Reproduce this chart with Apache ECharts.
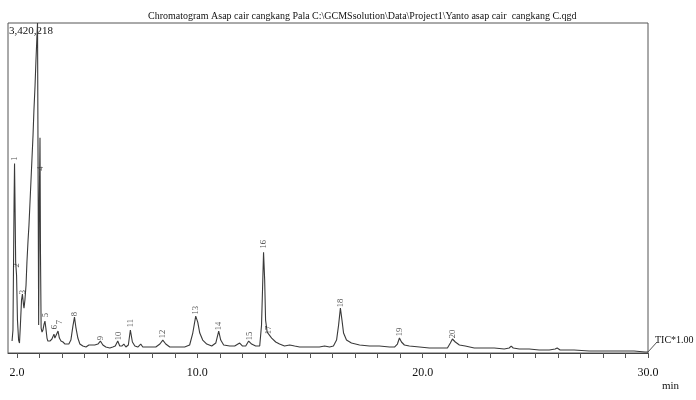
<!DOCTYPE html>
<html>
<head>
<meta charset="utf-8">
<script src="https://cdn.jsdelivr.net/npm/echarts@6/dist/echarts.min.js"></script>
<style>html,body{margin:0;padding:0;background:#fff}#c{width:696px;height:400px}</style>
</head>
<body>
<div id="c"></div>
<script>
// Retention time (min) and intensity (thousand counts)
const tic = [
[1.78,124],[1.82,238],[1.87,1581],[1.89,1963],[1.91,1581],[1.94,940],[1.98,806],[2.02,341],[2.07,134],[2.11,103],
[2.15,289],[2.20,548],[2.24,610],[2.29,496],[2.31,465],[2.35,548],[2.40,703],[2.44,940],[2.49,1168],[2.53,1323],
[2.57,1529],[2.62,1788],[2.66,1994],[2.71,2253],[2.75,2511],[2.80,2769],[2.84,3028],[2.88,3255],[2.91,3420],[2.94,1581],
[2.96,289],[2.99,1581],[3.02,2232],[3.04,1064],[3.07,258],[3.11,217],[3.15,238],[3.20,300],[3.24,331],[3.28,258],
[3.33,155],[3.37,124],[3.46,124],[3.55,145],[3.64,196],[3.68,155],[3.75,165],[3.82,227],[3.88,155],[3.95,124],
[4.04,114],[4.13,93],[4.21,83],[4.30,93],[4.39,134],[4.48,279],[4.55,372],[4.61,269],[4.70,155],[4.79,93],
[4.92,72],[5.06,62],[5.19,83],[5.32,83],[5.45,83],[5.59,93],[5.70,124],[5.81,83],[5.94,62],[6.12,52],
[6.25,62],[6.36,72],[6.47,124],[6.56,72],[6.65,72],[6.74,93],[6.83,62],[6.94,83],[7.03,238],[7.12,114],
[7.23,72],[7.36,62],[7.49,93],[7.58,62],[7.76,62],[7.98,62],[8.16,62],[8.34,93],[8.47,134],[8.60,93],
[8.78,62],[9.00,62],[9.22,62],[9.44,62],[9.66,83],[9.80,207],[9.93,382],[10.02,320],[10.11,207],[10.24,134],
[10.42,93],[10.64,72],[10.82,103],[10.95,227],[11.04,134],[11.17,83],[11.44,72],[11.66,72],[11.88,103],[12.01,72],
[12.15,72],[12.28,124],[12.41,93],[12.59,72],[12.77,72],[12.85,289],[12.90,703],[12.94,1044],[12.99,754],[13.03,341],
[13.10,217],[13.16,207],[13.30,155],[13.48,114],[13.65,93],[13.87,72],[14.10,83],[14.32,72],[14.54,62],[14.98,62],
[15.42,62],[15.65,72],[15.87,62],[16.04,72],[16.18,134],[16.27,289],[16.35,465],[16.42,341],[16.49,207],[16.62,134],
[16.84,103],[17.20,83],[17.64,72],[18.08,72],[18.53,62],[18.75,62],[18.88,93],[18.97,155],[19.06,114],[19.19,83],
[19.41,72],[19.86,62],[20.30,52],[20.74,52],[21.10,52],[21.23,103],[21.32,145],[21.45,114],[21.63,83],[21.89,72],
[22.29,52],[22.74,52],[23.18,52],[23.62,41],[23.84,52],[23.93,72],[24.02,52],[24.29,41],[24.73,41],[25.17,31],
[25.62,31],[25.88,41],[25.97,52],[26.10,31],[26.72,31],[27.39,21],[28.05,21],[28.72,21],[29.38,21],[29.87,10],[30.0,10]
];

// Peak numbers and where their labels sit (time, intensity)
const peakNumbers = ['1','2','3','4','5','6','7','8','9','10','11','12','13','14','15','16','17','18','19','20'];
const peakLabelTimes = [1.91,1.98,2.24,3.06,3.28,3.68,3.88,4.57,5.72,6.52,7.05,8.47,9.93,10.95,12.32,12.94,13.16,16.35,18.97,21.32];
const peakLabelHeights = [2015,909,630,1912,393,269,320,403,155,176,310,196,444,279,176,1126,238,517,217,196];

const xTicks = [2,3,4,5,6,7,8,9,10,11,12,13,14,15,16,17,18,19,20,21,22,23,24,25,26,27,28,29,30];
const xLabels = [2,10,20,30];
const yMax = 3420.218;

const titleText = 'Chromatogram Asap cair cangkang Pala C:\\GCMSsolution\\Data\\Project1\\Yanto asap cair  cangkang C.qgd';

const serif = '"Liberation Serif", "DejaVu Serif", serif';
const ink = '#3a3a3a';

const chart = echarts.init(document.getElementById('c'), null, {renderer: 'canvas'});
chart.setOption({
  animation: false,
  backgroundColor: '#fff',
  title: {
    text: titleText,
    left: 143,
    top: 6,
    textStyle: {fontFamily: serif, fontSize: 10, fontWeight: 'normal', color: '#111'}
  },
  grid: {left: 8, right: 48, top: 23, bottom: 47, show: true, borderColor: '#555', borderWidth: 1},
  xAxis: {
    type: 'value', min: 1.6, max: 30,
    axisLine: {show: true, lineStyle: {color: '#444', width: 1}},
    axisTick: {show: true, customValues: xTicks, length: 5, lineStyle: {color: '#555'}},
    axisLabel: {
      customValues: xLabels, margin: 14,
      formatter: v => v.toFixed(1),
      fontFamily: serif, fontSize: 12, color: '#111'
    },
    splitLine: {show: false}
  },
  yAxis: {
    type: 'value', min: 0, max: yMax,
    axisLine: {show: false}, axisTick: {show: false}, axisLabel: {show: false}, splitLine: {show: false}
  },
  series: [
    {
      type: 'line', data: tic, showSymbol: false, smooth: false,
      lineStyle: {color: ink, width: 1.1}, z: 3
    },
    {
      type: 'scatter', symbolSize: 0,
      data: peakLabelTimes.map((t, i) => [t, peakLabelHeights[i]]),
      label: {
        show: true, position: 'inside', rotate: 90,
        formatter: p => peakNumbers[p.dataIndex],
        fontFamily: serif, fontSize: 8.5, color: '#222'
      },
      z: 4
    }
  ],
  graphic: [
    {type: 'text', left: 9, top: 26, style: {text: '3,420,218', font: '11px ' + serif, fill: '#111'}},
    {type: 'line', shape: {x1: 648, y1: 352, x2: 657, y2: 342}, style: {stroke: '#555', lineWidth: 1}},
    {type: 'text', left: 655, top: 335, style: {text: 'TIC*1.00', font: '10px ' + serif, fill: '#111'}},
    {type: 'text', left: 662, top: 381, style: {text: 'min', font: '11px ' + serif, fill: '#111'}}
  ]
});
</script>
</body>
</html>
